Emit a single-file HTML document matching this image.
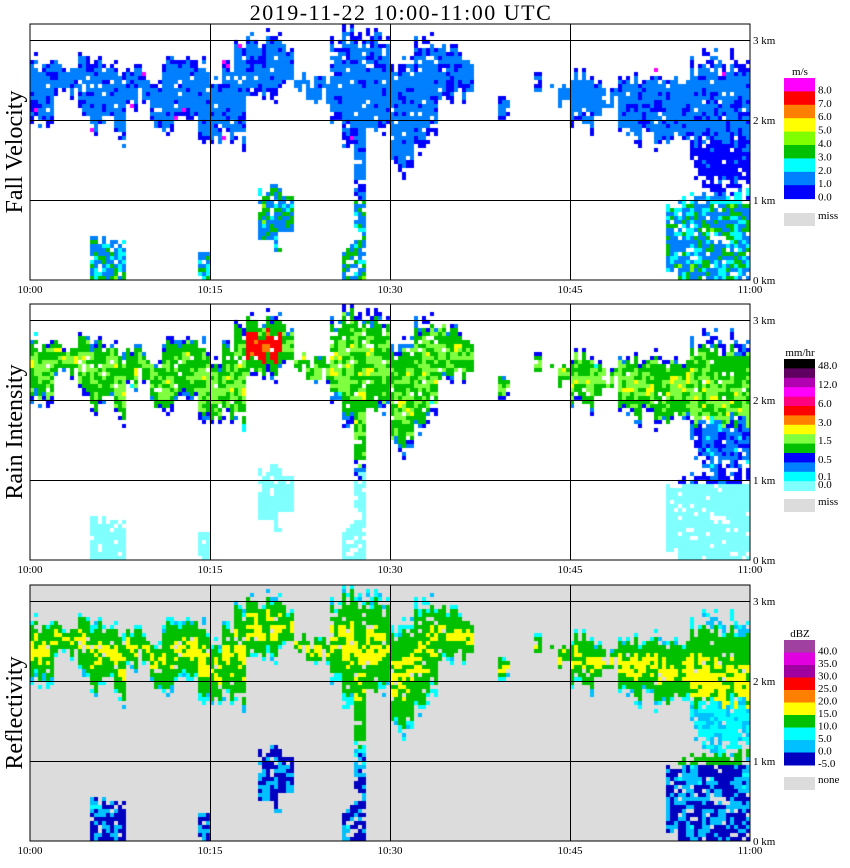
<!DOCTYPE html>
<html><head><meta charset="utf-8">
<style>
body{margin:0;background:#fff;width:850px;height:868px;overflow:hidden;position:relative;font-family:"Liberation Serif",serif;}
canvas,svg{position:absolute;left:0;top:0;}
</style></head>
<body>
<canvas id="cv" width="850" height="868"></canvas>
<svg id="ov" width="850" height="868"></svg>
<script>
const minutes=[];for(let i=0;i<60;i++)minutes.push(i);
const upperTop=[2.8,2.75,2.7,2.65,2.85,2.75,2.7,2.7,2.65,2.6,2.5,2.75,2.7,2.8,2.75,2.5,2.7,3.0,3.05,3.05,3.05,2.9,2.5,2.5,2.5,3.0,3.2,3.2,3.1,3.0,2.66,2.75,2.95,3.0,2.95,2.9,2.8,2.6,0,2.3,0,0,2.55,2.5,2.5,2.6,2.6,2.5,2.3,2.5,2.6,2.55,2.6,2.55,2.6,2.75,2.8,2.8,2.8,2.8];
const upperBase=[2.0,2.0,2.3,2.3,2.05,1.8,2.0,1.75,2.1,2.3,1.95,1.9,2.0,2.0,1.75,1.7,1.7,1.65,2.3,2.3,2.3,2.4,2.4,2.15,2.3,2.0,1.6,1.0,1.7,1.9,1.35,1.35,1.5,1.8,2.2,2.3,2.25,2.5,0,2.1,0,0,2.4,2.4,2.2,2.0,1.9,2.1,2.2,1.8,1.75,1.8,1.65,1.7,1.7,1.3,1.1,1.1,1.1,1.1];
const lowerTop=[0,0,0,0,0,0.5,0.55,0.5,0,0,0,0,0,0,0.4,0,0,0,0,1.1,1.2,1.1,0,0,0,0,0.4,1.2,0,0,0,0,0,0,0,0,0,0,0,0,0,0,0,0,0,0,0,0,0,0,0,0,0,0.9,1.0,1.1,1.1,1.1,1.1,1.1];
const lowerBase=[0,0,0,0,0,0,0,0,0,0,0,0,0,0,0,0,0,0,0,0.5,0.35,0.6,0,0,0,0,0,0,0,0,0,0,0,0,0,0,0,0,0,0,0,0,0,0,0,0,0,0,0,0,0,0,0,0.1,0,0,0,0,0,0];
const timeLabels=["10:00","10:15","10:30","10:45","11:00"];
const kmLabels=["0 km","1 km","2 km","3 km"];
const panelTitles=["Fall Velocity","Rain Intensity","Reflectivity"];
const legend1=["8.0","7.0","6.0","5.0","4.0","3.0","2.0","1.0","0.0"];
const legend2=["48.0","12.0","6.0","3.0","1.5","0.5","0.1","0.0"];
const legend3=["40.0","35.0","30.0","25.0","20.0","15.0","10.0","5.0","0.0","-5.0"];

const X0=30,X1=750,PXKM=80,bottoms=[280,560,841],H=256;
const xOf=m=>X0+(X1-X0)*m/60;
const yOf=(p,km)=>bottoms[p]-km*PXKM;
function hash(a,b,c){let h=(a*374761393+b*668265263+c*2147483647)|0;h=(h^(h>>>13))*1274126177|0;h^=h>>>16;return ((h>>>0)%10000)/10000;}
function snoise(c,r,p){return 0.45*hash(c,r,p)+0.35*hash(c>>1,r>>1,p+11)+0.2*hash(c>>2,r>>2,p+23);}

const cv=document.getElementById('cv').getContext('2d');
cv.fillStyle='#dcdcdc';cv.fillRect(X0,bottoms[2]-H,X1-X0,H);
function upperColor(p,f,n,m,weak){
 if(p===0){if(weak)return n<0.7?'#0000ff':'#0080ff';
   if(f<0.2)return n<0.2?'#ff00ff':n<0.7?'#0000ff':'#0080ff';return n<0.3?'#0000ff':n<0.97?'#0080ff':'#00ffff';}
 if(p===1){if(weak)return n<0.4?'#0000ff':n<0.75?'#0080ff':'#00ffff';
   if(f<0.2)return n<0.55?'#0000ff':n<0.85?'#0080ff':'#00ffff';if(f<0.6)return n<0.65?'#00c000':'#80ff40';
   if(m>=18&&m<=20&&f>0.55)return n<0.7?'#ff0000':'#ff8000';return n<0.45?'#00c000':n<0.75?'#80ff40':n<0.97?'#ffff00':'#ff8000';}
 if(weak)return n<0.6?'#00ffff':'#00c0ff';
 if(f<0.2)return n<0.6?'#00ffff':'#00c0ff';if(f<0.65)return '#00c000';return n<0.55?'#ffff00':'#00c000';
}
function lowerColor(p,n,band){
 if(p===0){if(band)return n<0.5?'#0080ff':'#00ffff';return n<0.35?'#00ffff':n<0.6?'#0080ff':n<0.85?'#00c000':'#80ff00';}
 if(p===1){if(band)return n<0.6?'#0000ff':'#0080ff';return '#80ffff';}
 if(band)return '#00c000';return n<0.55?'#0000c0':n<0.85?'#00c0ff':'#00ffff';
}
const CW=4,CH=0.05;
for(let p=0;p<3;p++){
 for(const m of minutes){
  for(let s=0;s<3;s++){
   const c=m*3+s;
   for(let r=0;r<64;r++){
    const h=(r+0.5)*CH;const n=snoise(c,r,p+7);const n2=hash(c,r,3);
    let col=null;
    const t=upperTop[m],b=upperBase[m];
    if(t>0){
     const te=t+(hash(c,1,9)-0.5)*0.2,be=b+(hash(c,2,9)-0.5)*0.2;
     if(h<=te&&h>=be){
      const dT=(te-h)/CH,dB=(h-be)/CH,half=Math.max(1,(te-be)/CH/2);
      const f=Math.min(dT,dB)/half;const keep=f<0.2?0.6:0.95;
      const weak=(m>=55&&h<1.6+hash(c,4,9)*0.25);
      if(n2<keep)col=upperColor(p,f,n,m,weak);
     }
    }
    const lt=lowerTop[m];
    if(!col&&lt>0){
     const lte=lt+(hash(c,5,9)-0.5)*0.15;
     if(h<=lte&&h>=lowerBase[m]){
      if(n2<0.88){const band=(m>=52&&h>=0.95&&h<=1.15);col=lowerColor(p,n,band);}
     }
    }
    if(col){cv.fillStyle=col;cv.fillRect(X0+c*CW,bottoms[p]-(r+1)*CH*PXKM,CW,CH*PXKM);}
   }
  }
 }
}

const NS='http://www.w3.org/2000/svg';const ov=document.getElementById('ov');
function mk(tag,attrs,name,txt){const e=document.createElementNS(NS,tag);for(const k in attrs)e.setAttribute(k,attrs[k]);
 
 
 if(txt!==undefined)e.textContent=txt;ov.appendChild(e);return e;}
mk('text',{x:401,y:20,'text-anchor':'middle','font-size':22,'letter-spacing':1.5,'font-family':'Liberation Serif, serif','xml:space':'preserve'},'chart-title','2019-11-22   10:00-11:00 UTC');
for(let p=0;p<3;p++){
 const top=bottoms[p]-H;
 mk('rect',{x:X0,y:top,width:X1-X0,height:H,fill:'none',stroke:'#000','stroke-width':1},'panel-frame');
 for(let k=1;k<=3;k++){const y=Math.round(yOf(p,k))+0.5;mk('line',{x1:X0,x2:X1,y1:y,y2:y,stroke:'#000'},'height-gridline');}
 for(let k=1;k<=3;k++){const x=xOf(k*15)+0.5;mk('line',{x1:x,x2:x,y1:top,y2:bottoms[p],stroke:'#000'},'time-gridline');}
 kmLabels.forEach((l,k)=>mk('text',{x:753,y:yOf(p,k)+4,'font-size':11,'font-family':'Liberation Serif, serif'},'km-label',l));
 timeLabels.forEach((l,k)=>mk('text',{x:xOf(k*15),y:bottoms[p]+13,'text-anchor':'middle','font-size':11,'font-family':'Liberation Serif, serif'},'time-label',l));
 const cy=top+H/2;
 mk('text',{x:22,y:cy,transform:`rotate(-90 22 ${cy})`,'text-anchor':'middle','font-size':24,'font-family':'Liberation Serif, serif'},'panel-title',panelTitles[p]);
}
function legend(top,bh,colors,labels,labelOffset,unit,missTop,missLbl,name){
 mk('text',{x:800,y:top-3,'text-anchor':'middle','font-size':11,'font-family':'Liberation Serif, serif'},name+'-unit',unit);
 colors.forEach((c,i)=>mk('rect',{x:784,y:top+i*bh,width:31,height:bh+0.5,fill:c},name+'-swatch'));
 labels.forEach((l,i)=>mk('text',{x:818,y:labelOffset(i)+4,'font-size':11,'font-family':'Liberation Serif, serif'},name+'-label',l));
 mk('rect',{x:784,y:missTop,width:31,height:13,fill:'#dcdcdc'},name+'-miss-swatch');
 mk('text',{x:818,y:missTop+6,'font-size':11,'font-family':'Liberation Serif, serif'},name+'-miss-label',missLbl);
}
legend(78,13.4,['#ff00ff','#ff0000','#ff8000','#ffff00','#80ff00','#00c000','#00ffff','#0080ff','#0000ff'],legend1,i=>78+13.4*(i+1)-2,'m/s',213,'miss','velocity-legend');
legend(359,9.4,['#000000','#600060','#b000b0','#ff00ff','#ff0080','#ff0000','#ff8000','#ffff00','#80ff40','#00c000','#0000ff','#0080ff','#00ffff','#80ffff'],legend2,i=>[365,384,403,422,440,459,476,484][i],'mm/hr',499,'miss','rain-legend');
legend(640,12.5,['#a040a0','#e000e0','#a000a0','#ff0000','#ff8000','#ffff00','#00c000','#00ffff','#00c0ff','#0000c0'],legend3,i=>640+12.5*(i+1)-2,'dBZ',777,'none','dbz-legend');
</script>
</body></html>
